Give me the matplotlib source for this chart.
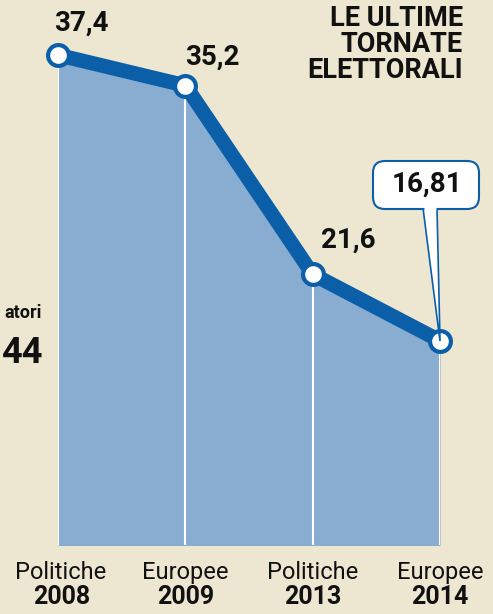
import matplotlib.pyplot as plt
from matplotlib.patches import FancyBboxPatch, Polygon

# dati
tornate = ['Politiche', 'Europee', 'Politiche', 'Europee']
anni = ['2008', '2009', '2013', '2014']
valori = [37.4, 35.2, 21.6, 16.81]
etichette = ['37,4', '35,2', '21,6', '16,81']

sfondo = '#ede6d1'
blu = '#0b5fa9'
area = '#89acd1'

plt.rcParams['font.family'] = ['Roboto', 'DejaVu Sans']

fig = plt.figure(figsize=(4.93, 6.14), dpi=100, facecolor=sfondo)
ax = fig.add_axes([58/493, 1 - 545/614, 382/493, 545/614])
ax.set_facecolor('none')

x = list(range(len(valori)))
ax.fill_between(x, valori, 0, color=area, lw=0)
for xi, v in zip(x, valori):
    ax.plot([xi, xi], [0, v], color='white', lw=1.5, zorder=2)
ax.plot(x, valori, color=blu, lw=10.5, solid_capstyle='round', zorder=3)
ax.plot(x, valori, 'o', ms=15, mfc='white', mec=blu, mew=3, zorder=4, clip_on=False)

ax.set_xlim(0, 3)
ax.set_ylim(2.1, 41.36)
ax.axis('off')

# etichette valori
offs = [(23, 32), (27, 28), (36, 34)]
for xi, v, t, o in zip(x[:3], valori[:3], etichette[:3], offs):
    ax.annotate(t, (xi, v), xytext=o, textcoords='offset pixels',
                ha='center', va='center', fontsize=20, fontweight='bold', color='#111111')

# fumetto per l'ultimo valore
box = FancyBboxPatch((373, 614 - 209), 106, 48, boxstyle='round,pad=0,rounding_size=12',
                     transform=None, fc='white', ec=blu, lw=1.5, zorder=5)
fig.patches.append(box)
coda = Polygon([(423, 614 - 208), (437, 614 - 208), (440, 614 - 341)], closed=True,
               transform=None, fc='white', ec=blu, lw=1.2, zorder=4)
fig.patches.append(coda)
fig.patches.append(Polygon([(424, 614 - 207.5), (436, 614 - 207.5)], closed=False,
                           transform=None, fill=False, ec='white', lw=2.5, zorder=6))
fig.text(427/493, 1 - 184/614, etichette[3], ha='center', va='center',
         fontsize=20, fontweight='bold', color='#111111', zorder=7)

# asse x
for xi, tor, anno in zip(x, tornate, anni):
    ax.text(xi + (0.02 if xi == 0 else 0), -0.05, tor, transform=ax.get_xaxis_transform(),
            ha='center', va='center', fontsize=17, color='#111111')
    ax.text(xi + (0.03 if xi == 0 else 0), -0.096, anno, transform=ax.get_xaxis_transform(),
            ha='center', va='center', fontsize=18, fontweight='bold', color='#111111')

# titolo
fig.text(463/493, 1 - 5/614, 'LE ULTIME\nTORNATE\nELETTORALI', ha='right', va='top',
         fontsize=19.5, fontweight='bold', color='#111111', linespacing=0.95)

# testo tagliato a sinistra
fig.text(42/493, 1 - 313/614, 'atori', ha='right', va='center', fontsize=13,
         fontweight='bold', color='#111111')
fig.text(43/493, 1 - 353/614, '44', ha='right', va='center', fontsize=26,
         fontweight='bold', color='#111111')

fig.savefig('out.png', dpi=100, facecolor=sfondo)
